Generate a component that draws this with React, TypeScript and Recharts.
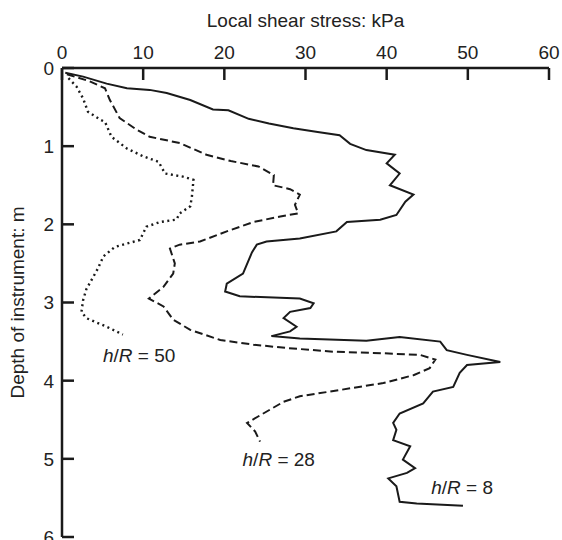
import { ScatterChart, Scatter, XAxis, YAxis, ReferenceDot } from "recharts";

const stressTicks = [0, 10, 20, 30, 40, 50, 60];
const depthTicks = [0, 1, 2, 3, 4, 5, 6];

// h/R = 8 (solid line)
const stress8 = [
  0.4, 2.6, 5.5, 8.0, 10.8, 12.9, 15.8, 18.6, 20.5, 23.0, 25.5, 28.5, 31.5, 34.2, 35.5, 37.5,
  41.0, 40.0, 41.6, 40.4, 43.3, 42.3, 41.2, 39.2, 35.1, 33.8, 29.3, 25.2, 24.0, 23.4, 22.3,
  20.3, 20.1, 21.9, 29.3, 31.0, 30.6, 28.1, 27.3, 28.9, 28.1, 25.8, 29.3, 37.5, 41.6, 46.6,
  47.4, 49.9, 54.0, 49.9, 49.0, 48.2, 45.7, 44.5, 41.6, 40.8, 41.2, 40.8, 42.9, 42.0, 43.5,
  42.5, 40.2, 41.2, 41.6, 43.7, 49.4,
];
const depth8 = [
  0.06, 0.11, 0.2, 0.26, 0.28, 0.32, 0.41, 0.53, 0.54, 0.65, 0.71, 0.77, 0.82, 0.86, 0.97, 1.05,
  1.11, 1.22, 1.35, 1.5, 1.62, 1.71, 1.88, 1.94, 1.97, 2.09, 2.18, 2.22, 2.26, 2.36, 2.63,
  2.76, 2.86, 2.92, 2.95, 3.01, 3.07, 3.12, 3.2, 3.31, 3.37, 3.43, 3.46, 3.49, 3.44, 3.5,
  3.61, 3.67, 3.76, 3.8, 3.9, 4.08, 4.14, 4.29, 4.42, 4.54, 4.63, 4.76, 4.84, 5.01, 5.12,
  5.18, 5.25, 5.35, 5.55, 5.57, 5.6,
];

// h/R = 28 (dashed line)
const stress28 = [
  0.6, 3.4, 5.3, 5.9, 7.1, 9.2, 10.8, 14.5, 17.8, 20.8, 24.2, 26.1, 26.0, 28.1, 29.3, 28.7,
  29.1, 26.9, 23.6, 20.3, 17.0, 14.5, 13.3, 13.9, 13.7, 12.5, 10.7, 12.5, 13.7, 15.8, 19.5,
  23.6, 27.5, 33.4, 39.6, 44.1, 46.0, 45.3, 43.3, 39.6, 34.2, 29.3, 27.3, 24.8, 22.8, 23.8,
  24.4,
];
const depth28 = [
  0.08, 0.17, 0.26, 0.41, 0.64, 0.79, 0.88, 0.96, 1.11, 1.19, 1.26, 1.37, 1.5, 1.55, 1.62, 1.75,
  1.86, 1.9, 1.97, 2.09, 2.22, 2.26, 2.31, 2.5, 2.63, 2.8, 2.95, 3.05, 3.22, 3.35, 3.48,
  3.54, 3.58, 3.63, 3.65, 3.67, 3.73, 3.84, 3.93, 4.03, 4.12, 4.2, 4.27, 4.42, 4.54, 4.65,
  4.78,
];

// h/R = 50 (dotted line)
const stress50 = [
  0.8, 1.8, 2.6, 3.2, 4.7, 5.3, 6.1, 8.0, 10.0, 11.9, 12.7, 14.9, 16.2, 16.0, 15.8, 14.5, 14.1,
  12.1, 10.4, 9.6, 6.5, 5.1, 4.4, 3.0, 2.6, 2.4, 3.0, 5.5, 7.5,
];
const depth50 = [
  0.13, 0.24, 0.39, 0.56, 0.66, 0.69, 0.88, 1.03, 1.13, 1.2, 1.35, 1.39, 1.43, 1.65, 1.77, 1.86,
  1.94, 1.97, 2.03, 2.2, 2.29, 2.41, 2.57, 2.83, 2.97, 3.12, 3.2, 3.31, 3.41,
];

const curveNames = ["8", "28", "50"];

const toPoints = (xs: number[], ys: number[]) => xs.map((x, i) => ({ x, y: ys[i] }));

const font = "'Liberation Sans', Arial, Helvetica, sans-serif";
const ink = "#1a1a1a";

// where each curve's h/R caption sits (data units)
const captions = [
  { name: curveNames[2], x: 9.5, y: 3.67 },
  { name: curveNames[1], x: 26.7, y: 5.0 },
  { name: curveNames[0], x: 49.3, y: 5.36 },
];

const TopTick = ({ x, y, payload }: any) => (
  <g>
    <line x1={x} y1={y} x2={x} y2={y + 12} stroke={ink} strokeWidth={2.5} />
    <text x={x} y={y - 9} textAnchor="middle" fontSize={19} fontFamily={font} fill="#222">
      {payload.value}
    </text>
  </g>
);

const LeftTick = ({ x, y, payload }: any) => (
  <g>
    <line x1={x} y1={y} x2={x + 12} y2={y} stroke={ink} strokeWidth={2.5} />
    <text x={x - 8} y={y} dy="0.36em" textAnchor="end" fontSize={19} fontFamily={font} fill="#222">
      {payload.value}
    </text>
  </g>
);

const noDot = () => <g />;

export default function App() {
  return (
    <div style={{ position: "absolute", left: 0, top: 0, background: "#fff" }}>
      <ScatterChart
        width={562}
        height={540}
        margin={{ top: 0, right: 13, bottom: 3, left: 0 }}
      >
        <XAxis
          type="number"
          dataKey="x"
          orientation="top"
          domain={[0, 60]}
          ticks={stressTicks}
          interval={0}
          height={68}
          tickSize={0}
          tickMargin={0}
          tickLine={false}
          tick={<TopTick />}
          axisLine={{ stroke: ink, strokeWidth: 2.5 }}
          label={{
            value: "Local shear stress: kPa",
            position: "insideTop",
            offset: 14,
            fontSize: 19,
            fontFamily: font,
            fill: "#222",
          }}
        />
        <YAxis
          type="number"
          dataKey="y"
          domain={[0, 6]}
          reversed
          ticks={depthTicks}
          interval={0}
          width={62}
          tickSize={0}
          tickMargin={0}
          tickLine={false}
          tick={<LeftTick />}
          axisLine={{ stroke: ink, strokeWidth: 2.5 }}
          label={{
            value: "Depth of instrument: m",
            angle: -90,
            position: "insideLeft",
            offset: 17,
            textAnchor: "middle",
            fontSize: 19,
            fontFamily: font,
            fill: "#222",
          }}
        />
        <Scatter
          name="h/R = 8"
          data={toPoints(stress8, depth8)}
          line={{ stroke: ink, strokeWidth: 2 }}
          lineJointType="linear"
          shape={noDot}
          isAnimationActive={false}
        />
        <Scatter
          name="h/R = 28"
          data={toPoints(stress28, depth28)}
          line={{ stroke: ink, strokeWidth: 2, strokeDasharray: "8 4" }}
          lineJointType="linear"
          shape={noDot}
          isAnimationActive={false}
        />
        <Scatter
          name="h/R = 50"
          data={toPoints(stress50, depth50)}
          line={{ stroke: ink, strokeWidth: 2.4, strokeDasharray: "2 3.5" }}
          lineJointType="linear"
          shape={noDot}
          isAnimationActive={false}
        />
        {captions.map((c) => (
          <ReferenceDot
            key={c.name}
            x={c.x}
            y={c.y}
            r={0}
            shape={(p: any) => (
              <text
                x={p.cx}
                y={p.cy}
                dy="0.36em"
                textAnchor="middle"
                fontSize={19}
                fontFamily={font}
                fill="#222"
              >
                <tspan fontStyle="italic">h</tspan>/<tspan fontStyle="italic">R</tspan>
                {" = " + c.name}
              </text>
            )}
          />
        ))}
      </ScatterChart>
    </div>
  );
}
